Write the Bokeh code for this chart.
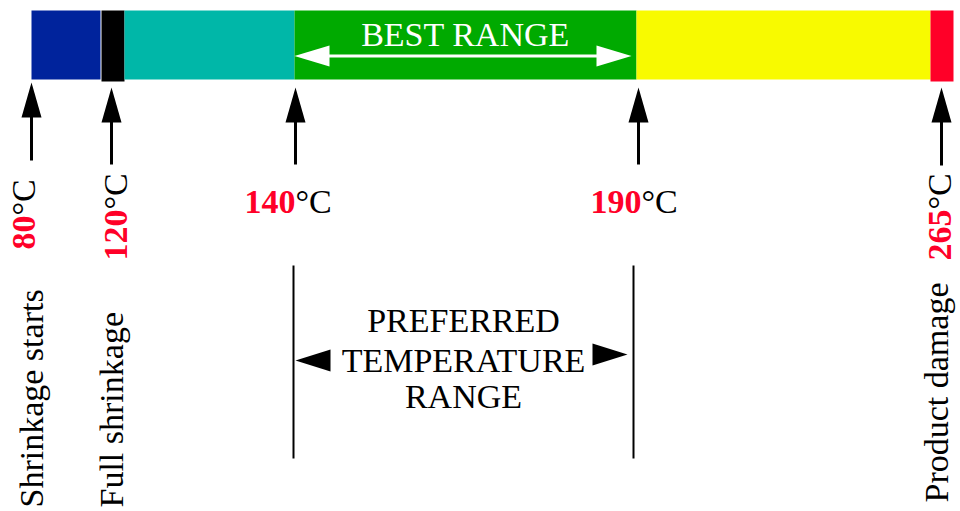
import math
from bokeh.plotting import figure
from bokeh.models import Range1d
from bokeh.core.properties import value
from bokeh.embed import file_html
from bokeh.resources import INLINE

# ---- data (diagram units = position along the temperature strip) ----
zone_names = ["Shrink start", "Full shrink", "Shrinking", "Best range", "Acceptable", "Damage"]
zone_left = [31, 101, 124, 294, 636, 930]
zone_right = [100, 124, 294, 636, 930, 953]
zone_top = [10, 10, 10, 10, 10, 10]
zone_bottom = [79, 81, 79, 79, 79, 81]
zone_colors = ["#00239c", "#000000", "#00b7a8", "#00aa00", "#f8fa00", "#ff0028"]

temps = ["80", "120", "140", "190", "265"]
temp_pos = [31, 111, 295, 638, 941]
arrow_tip = [82, 87, 87, 87, 87]
arrow_end = [160, 164, 164, 164, 165]

# rotated temperature labels (80, 120, 265)
rot_temps = ["80", "120", "265"]
rot_x = [35, 127, 951]
rot_y = [215, 209, 209]
# horizontal temperature labels (140, 190)
hor_temps = ["140", "190"]
hor_x = [295, 641]
hor_y = [213, 213]

desc_text = ["Shrinkage starts", "Full shrinkage", "Product damage"]
desc_x = [43, 123, 948]
desc_y = [507, 507, 502]

best_label = ["BEST RANGE"]
best_text_x = 465
best_text_y = 46
best_from = 294
best_to = 631
best_level = 55.5

pref_lines = ["PREFERRED", "TEMPERATURE", "RANGE"]
pref_line_y = [332, 372, 408]
pref_center = 463
pref_from = 293
pref_to = 633
pref_top = 265
pref_bottom = 458
pref_arrow_y = [360, 354]

FONT = value("Liberation Serif")
RED = "#ff0028"
SHIFT = 0.34  # baseline correction, in em
HS = 34  # horizontal text size
RS = 34  # rotated temperature size
DS = 34  # rotated description size


def sh(size):
    return SHIFT * size


p = figure(width=960, height=511, output_backend="svg", toolbar_location=None,
           x_range=Range1d(0, 960), y_range=Range1d(511, 0), min_border=0)
p.axis.visible = False
p.grid.visible = False
p.outline_line_color = None
p.background_fill_color = "white"

# colour strip
p.quad(left=zone_left, right=zone_right, top=zone_top, bottom=zone_bottom,
       fill_color=zone_colors, line_color=None)

# white double arrow inside green zone
HL, HW = 35, 10.5
p.segment(x0=[best_from + HL - 2], y0=[best_level], x1=[best_to - HL + 2], y1=[best_level],
          line_color="white", line_width=3)
p.patches(xs=[[best_from, best_from + HL, best_from + HL], [best_to, best_to - HL, best_to - HL]],
          ys=[[best_level, best_level - HW, best_level + HW], [best_level, best_level - HW, best_level + HW]],
          fill_color="white", line_color=None)
p.text(x=[best_text_x], y=[best_text_y - sh(HS)], text=best_label, text_font=FONT,
       text_font_size=f"{HS}px", text_color="white", text_align="center", text_baseline="alphabetic")

# upward arrows under thresholds
AL, AW = 35, 10
p.segment(x0=temp_pos, y0=[t + AL - 2 for t in arrow_tip], x1=temp_pos, y1=arrow_end,
          line_color="black", line_width=3)
p.patches(xs=[[x - AW, x, x + AW] for x in temp_pos],
          ys=[[t + AL, t, t + AL] for t in arrow_tip],
          fill_color="black", line_color=None)

# rotated temperature labels
p.text(x=[x - sh(RS) for x in rot_x], y=rot_y, text=rot_temps, angle=math.pi / 2, text_font=FONT,
       text_font_size=f"{RS}px", text_font_style="bold", text_color=RED,
       text_align="right", text_baseline="alphabetic")
p.text(x=[x - sh(RS) for x in rot_x], y=rot_y, text=["°C"] * len(rot_x), angle=math.pi / 2, text_font=FONT,
       text_font_size=f"{RS}px", text_color="black",
       text_align="left", text_baseline="alphabetic")

# horizontal temperature labels
p.text(x=hor_x, y=[y - sh(HS) for y in hor_y], text=hor_temps, text_font=FONT,
       text_font_size=f"{HS}px", text_font_style="bold", text_color=RED,
       text_align="right", text_baseline="alphabetic")
p.text(x=hor_x, y=[y - sh(HS) for y in hor_y], text=["°C"] * len(hor_x), text_font=FONT,
       text_font_size=f"{HS}px", text_color="black",
       text_align="left", text_baseline="alphabetic")

# descriptions
p.text(x=[x - sh(DS) for x in desc_x], y=desc_y, text=desc_text, angle=math.pi / 2, text_font=FONT,
       text_font_size=f"{DS}px", text_color="black",
       text_align="left", text_baseline="alphabetic")

# preferred temperature range
p.segment(x0=[pref_from, pref_to], y0=[pref_top, pref_top], x1=[pref_from, pref_to], y1=[pref_bottom, pref_bottom],
          line_color="black", line_width=2)
PL, PW = 35, 11
p.patches(xs=[[pref_from + 2, pref_from + 2 + PL, pref_from + 2 + PL], [pref_to - 6, pref_to - 6 - PL, pref_to - 6 - PL]],
          ys=[[pref_arrow_y[0], pref_arrow_y[0] - PW, pref_arrow_y[0] + PW],
              [pref_arrow_y[1], pref_arrow_y[1] - PW, pref_arrow_y[1] + PW]],
          fill_color="black", line_color=None)
p.text(x=[pref_center] * 3, y=[y - sh(HS) for y in pref_line_y], text=pref_lines, text_font=FONT,
       text_font_size=f"{HS}px", text_color="black", text_align="center", text_baseline="alphabetic")

open("out.html", "w").write(file_html(p, INLINE))
